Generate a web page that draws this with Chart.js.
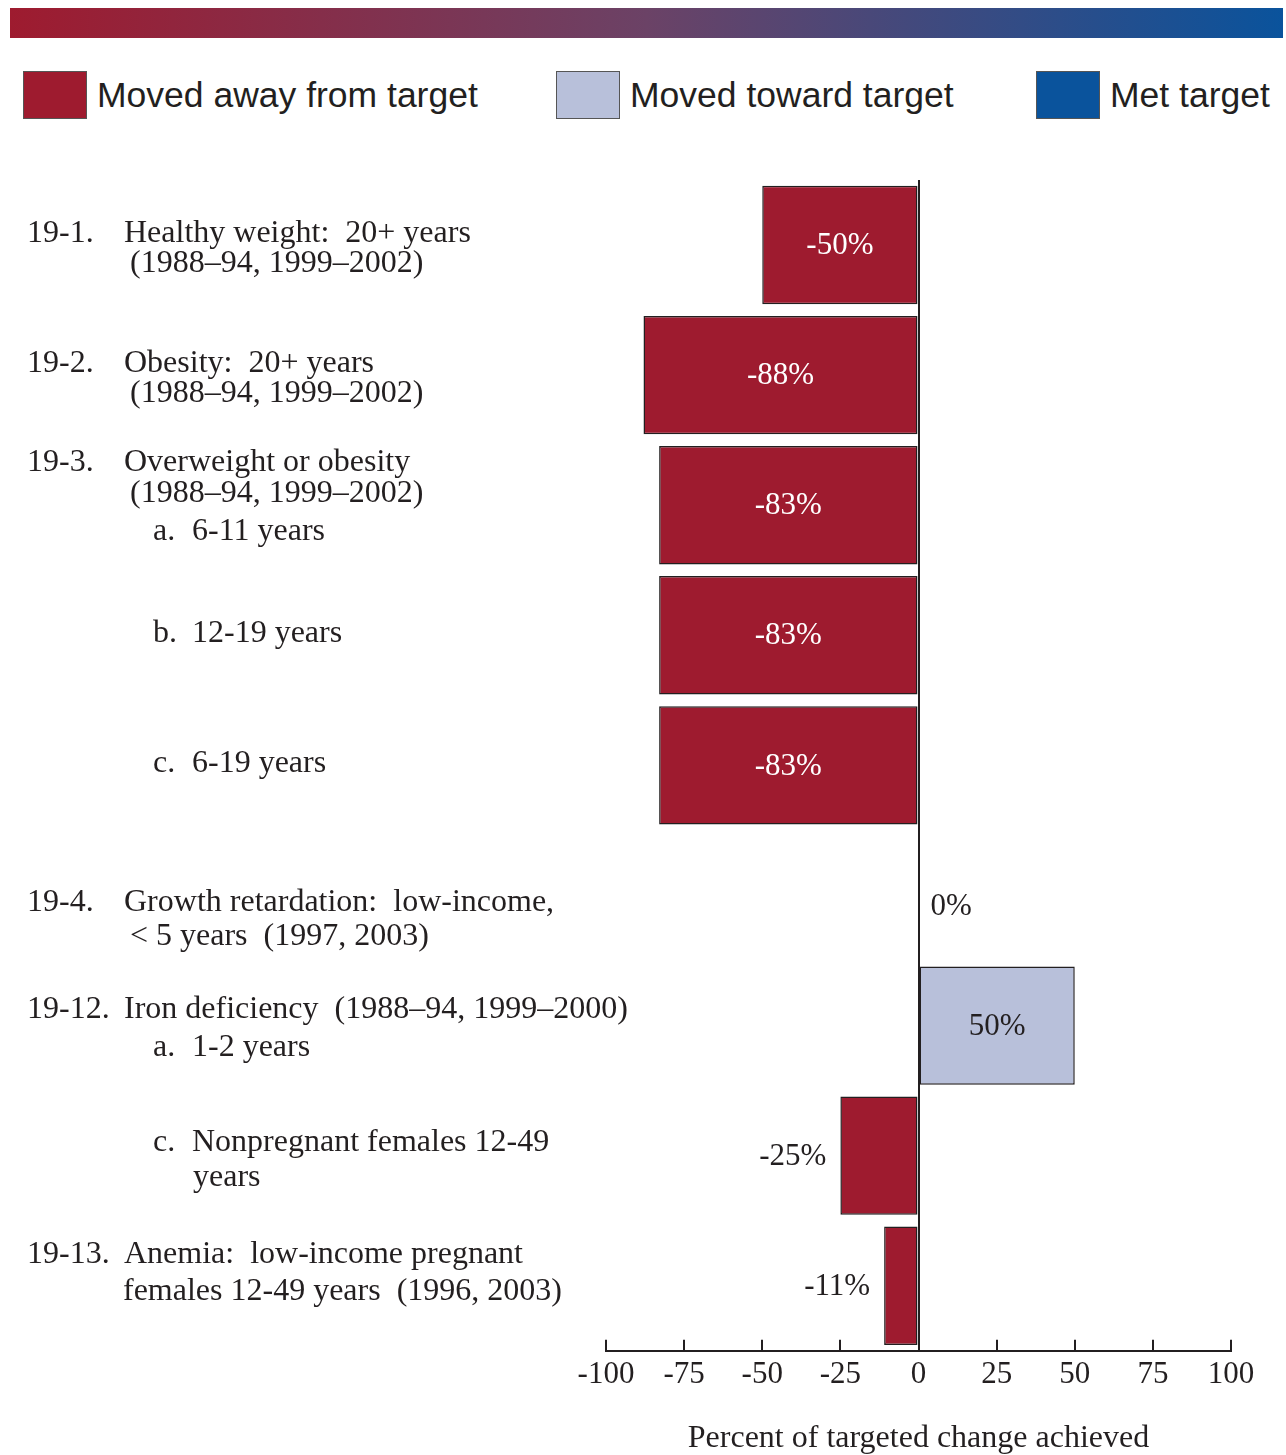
<!DOCTYPE html>
<html>
<head>
<meta charset="utf-8">
<script src="https://cdn.jsdelivr.net/npm/chart.js@4.4.0/dist/chart.umd.min.js"></script>
<style>
	body { margin: 0; background: #fff; }
	#wrap { position: relative; width: 1286px; height: 1455px; }
	#band { position: absolute; left: 10px; top: 8px; width: 1273px; height: 30px;
		background: linear-gradient(to right, #9e1b2f, #6b4266 50%, #0a539c); }
	.key { position: absolute; top: 70px; height: 50px; display: flex; align-items: center;
		font: 35.5px "Liberation Sans", Arial, sans-serif; color: #231f20; }
	.key i { display: inline-block; width: 62px; height: 46px; border: 1px solid #555; margin-right: 10px; }
	canvas { position: absolute; left: 0; top: 0; }
</style>
</head>
<body>
<div id="wrap">
	<div id="band"></div>
	<div class="key" style="left:23px"><i style="background:#9e1b2f"></i>Moved away from target</div>
	<div class="key" style="left:556px"><i style="background:#b8c0da"></i>Moved toward target</div>
	<div class="key" style="left:1036px"><i style="background:#0a539c"></i>Met target</div>
	<canvas id="chart" width="1286" height="1455"></canvas>
</div>
<script>
// one entry per objective row, top to bottom
var categories = ['19-1', '19-2', '19-3a', '19-3b', '19-3c', '19-4', '19-12a', '19-12c', '19-13'];
var changeAchieved = [-50, -88, -83, -83, -83, 0, 50, -25, -11];
var barStatus = ['away', 'away', 'away', 'away', 'away', 'none', 'toward', 'away', 'away'];
var xTicks = [-100, -75, -50, -25, 0, 25, 50, 75, 100];

// label text: [kind, number/letter, text]
var labelLines = [
	[['head', '19-1.', 'Healthy weight:  20+ years'], ['cont', '', '(1988–94, 1999–2002)']],
	[['head', '19-2.', 'Obesity:  20+ years'], ['cont', '', '(1988–94, 1999–2002)']],
	[['head', '19-3.', 'Overweight or obesity'], ['cont', '', '(1988–94, 1999–2002)'], ['sub', 'a.', '6-11 years']],
	[['sub', 'b.', '12-19 years']],
	[['sub', 'c.', '6-19 years']],
	[['head', '19-4.', 'Growth retardation:  low-income,'], ['cont', '', '< 5 years  (1997, 2003)']],
	[['head', '19-12.', 'Iron deficiency  (1988–94, 1999–2000)'], ['sub', 'a.', '1-2 years']],
	[['sub', 'c.', 'Nonpregnant females 12-49'], ['subcont', '', 'years']],
	[['head', '19-13.', 'Anemia:  low-income pregnant'], ['wrap', '', 'females 12-49 years  (1996, 2003)']]
];
var axisTitle = 'Percent of targeted change achieved';

// layout, kept apart from the data
var lineDy = [[-11, 19], [-12, 18], [-43, -12, 26], [-2], [-2], [7, 41], [-16, 22], [-13, 22], [-31, 6]];
var colX = { num: 27, head: 124, cont: 130, wrap: 123, subLetter: 153, sub: 192, subcont: 193 };

var INK = '#231f20';
var statusColor = { away: '#9e1b2f', toward: '#b8c0da', met: '#0a539c', none: '#9e1b2f' };
var SERIF = '"Liberation Serif", "Times New Roman", serif';

var rowLabels = {
	id: 'rowLabels',
	afterDraw(chart) {
		var ctx = chart.ctx, ys = chart.scales.y;
		ctx.save();
		ctx.fillStyle = INK;
		ctx.font = '32px ' + SERIF;
		ctx.textBaseline = 'middle';
		ctx.textAlign = 'left';
		labelLines.forEach((lines, i) => {
			var yc = ys.getPixelForValue(i);
			lines.forEach((ln, j) => {
				var y = yc + lineDy[i][j];
				var kind = ln[0];
				if (kind == 'head') {
					ctx.fillText(ln[1], colX.num, y);
					ctx.fillText(ln[2], colX.head, y);
				} else if (kind == 'sub') {
					ctx.fillText(ln[1], colX.subLetter, y);
					ctx.fillText(ln[2], colX.sub, y);
				} else {
					ctx.fillText(ln[2], colX[kind], y);
				}
			});
		});
		ctx.restore();
	}
};

var valueLabels = {
	id: 'valueLabels',
	afterDatasetsDraw(chart) {
		var ctx = chart.ctx;
		var meta = chart.getDatasetMeta(0);
		ctx.save();
		ctx.font = '31px ' + SERIF;
		ctx.textBaseline = 'middle';
		meta.data.forEach((bar, i) => {
			var v = changeAchieved[i];
			var txt = v + '%';
			if (Math.abs(v) >= 40) {
				ctx.fillStyle = barStatus[i] == 'toward' ? INK : '#fff';
				ctx.textAlign = 'center';
				ctx.fillText(txt, (bar.x + bar.base) / 2, bar.y + 1);
			} else if (v < 0) {
				ctx.fillStyle = INK;
				ctx.textAlign = 'right';
				ctx.fillText(txt, bar.x - 14, bar.y + 1);
			} else {
				ctx.fillStyle = INK;
				ctx.textAlign = 'left';
				ctx.fillText(txt, bar.base + 12, bar.y + 11);
			}
		});
		ctx.restore();
	}
};

// ticks point up from the axis line
var upTicks = {
	id: 'upTicks',
	afterDraw(chart) {
		var ctx = chart.ctx, xs = chart.scales.x, bottom = chart.chartArea.bottom;
		ctx.save();
		ctx.strokeStyle = INK;
		ctx.lineWidth = 2;
		xTicks.forEach(t => {
			var x = Math.round(xs.getPixelForValue(t));
			ctx.beginPath();
			ctx.moveTo(x, bottom);
			ctx.lineTo(x, bottom - 11);
			ctx.stroke();
		});
		ctx.restore();
	}
};

var ctx = document.getElementById('chart').getContext('2d');
new Chart(ctx, {
	type: 'bar',
	data: {
		labels: categories,
		datasets: [{
			data: changeAchieved,
			backgroundColor: barStatus.map(s => statusColor[s]),
			borderColor: INK,
			borderWidth: 1.5,
			borderSkipped: false,
			barPercentage: 0.91,
			categoryPercentage: 1
		}]
	},
	options: {
		indexAxis: 'y',
		responsive: false,
		animation: false,
		events: [],
		layout: { padding: { left: 606, right: 55, top: 180, bottom: 0 } },
		plugins: { legend: { display: false }, tooltip: { enabled: false } },
		scales: {
			y: { display: false },
			x: {
				min: -100,
				max: 100,
				afterBuildTicks: axis => { axis.ticks = xTicks.map(v => ({ value: v })); },
				ticks: { color: INK, padding: 5, font: { family: SERIF, size: 31 } },
				grid: {
					drawTicks: false,
					color: c => c.tick && c.tick.value === 0 ? INK : 'rgba(0,0,0,0)',
					lineWidth: 2
				},
				border: { display: true, color: INK, width: 2 },
				title: {
					display: true,
					text: axisTitle,
					color: INK,
					font: { family: SERIF, size: 32, lineHeight: 1 },
					padding: { top: 25, bottom: 0 }
				}
			}
		}
	},
	plugins: [rowLabels, valueLabels, upTicks]
});
</script>
</body>
</html>
